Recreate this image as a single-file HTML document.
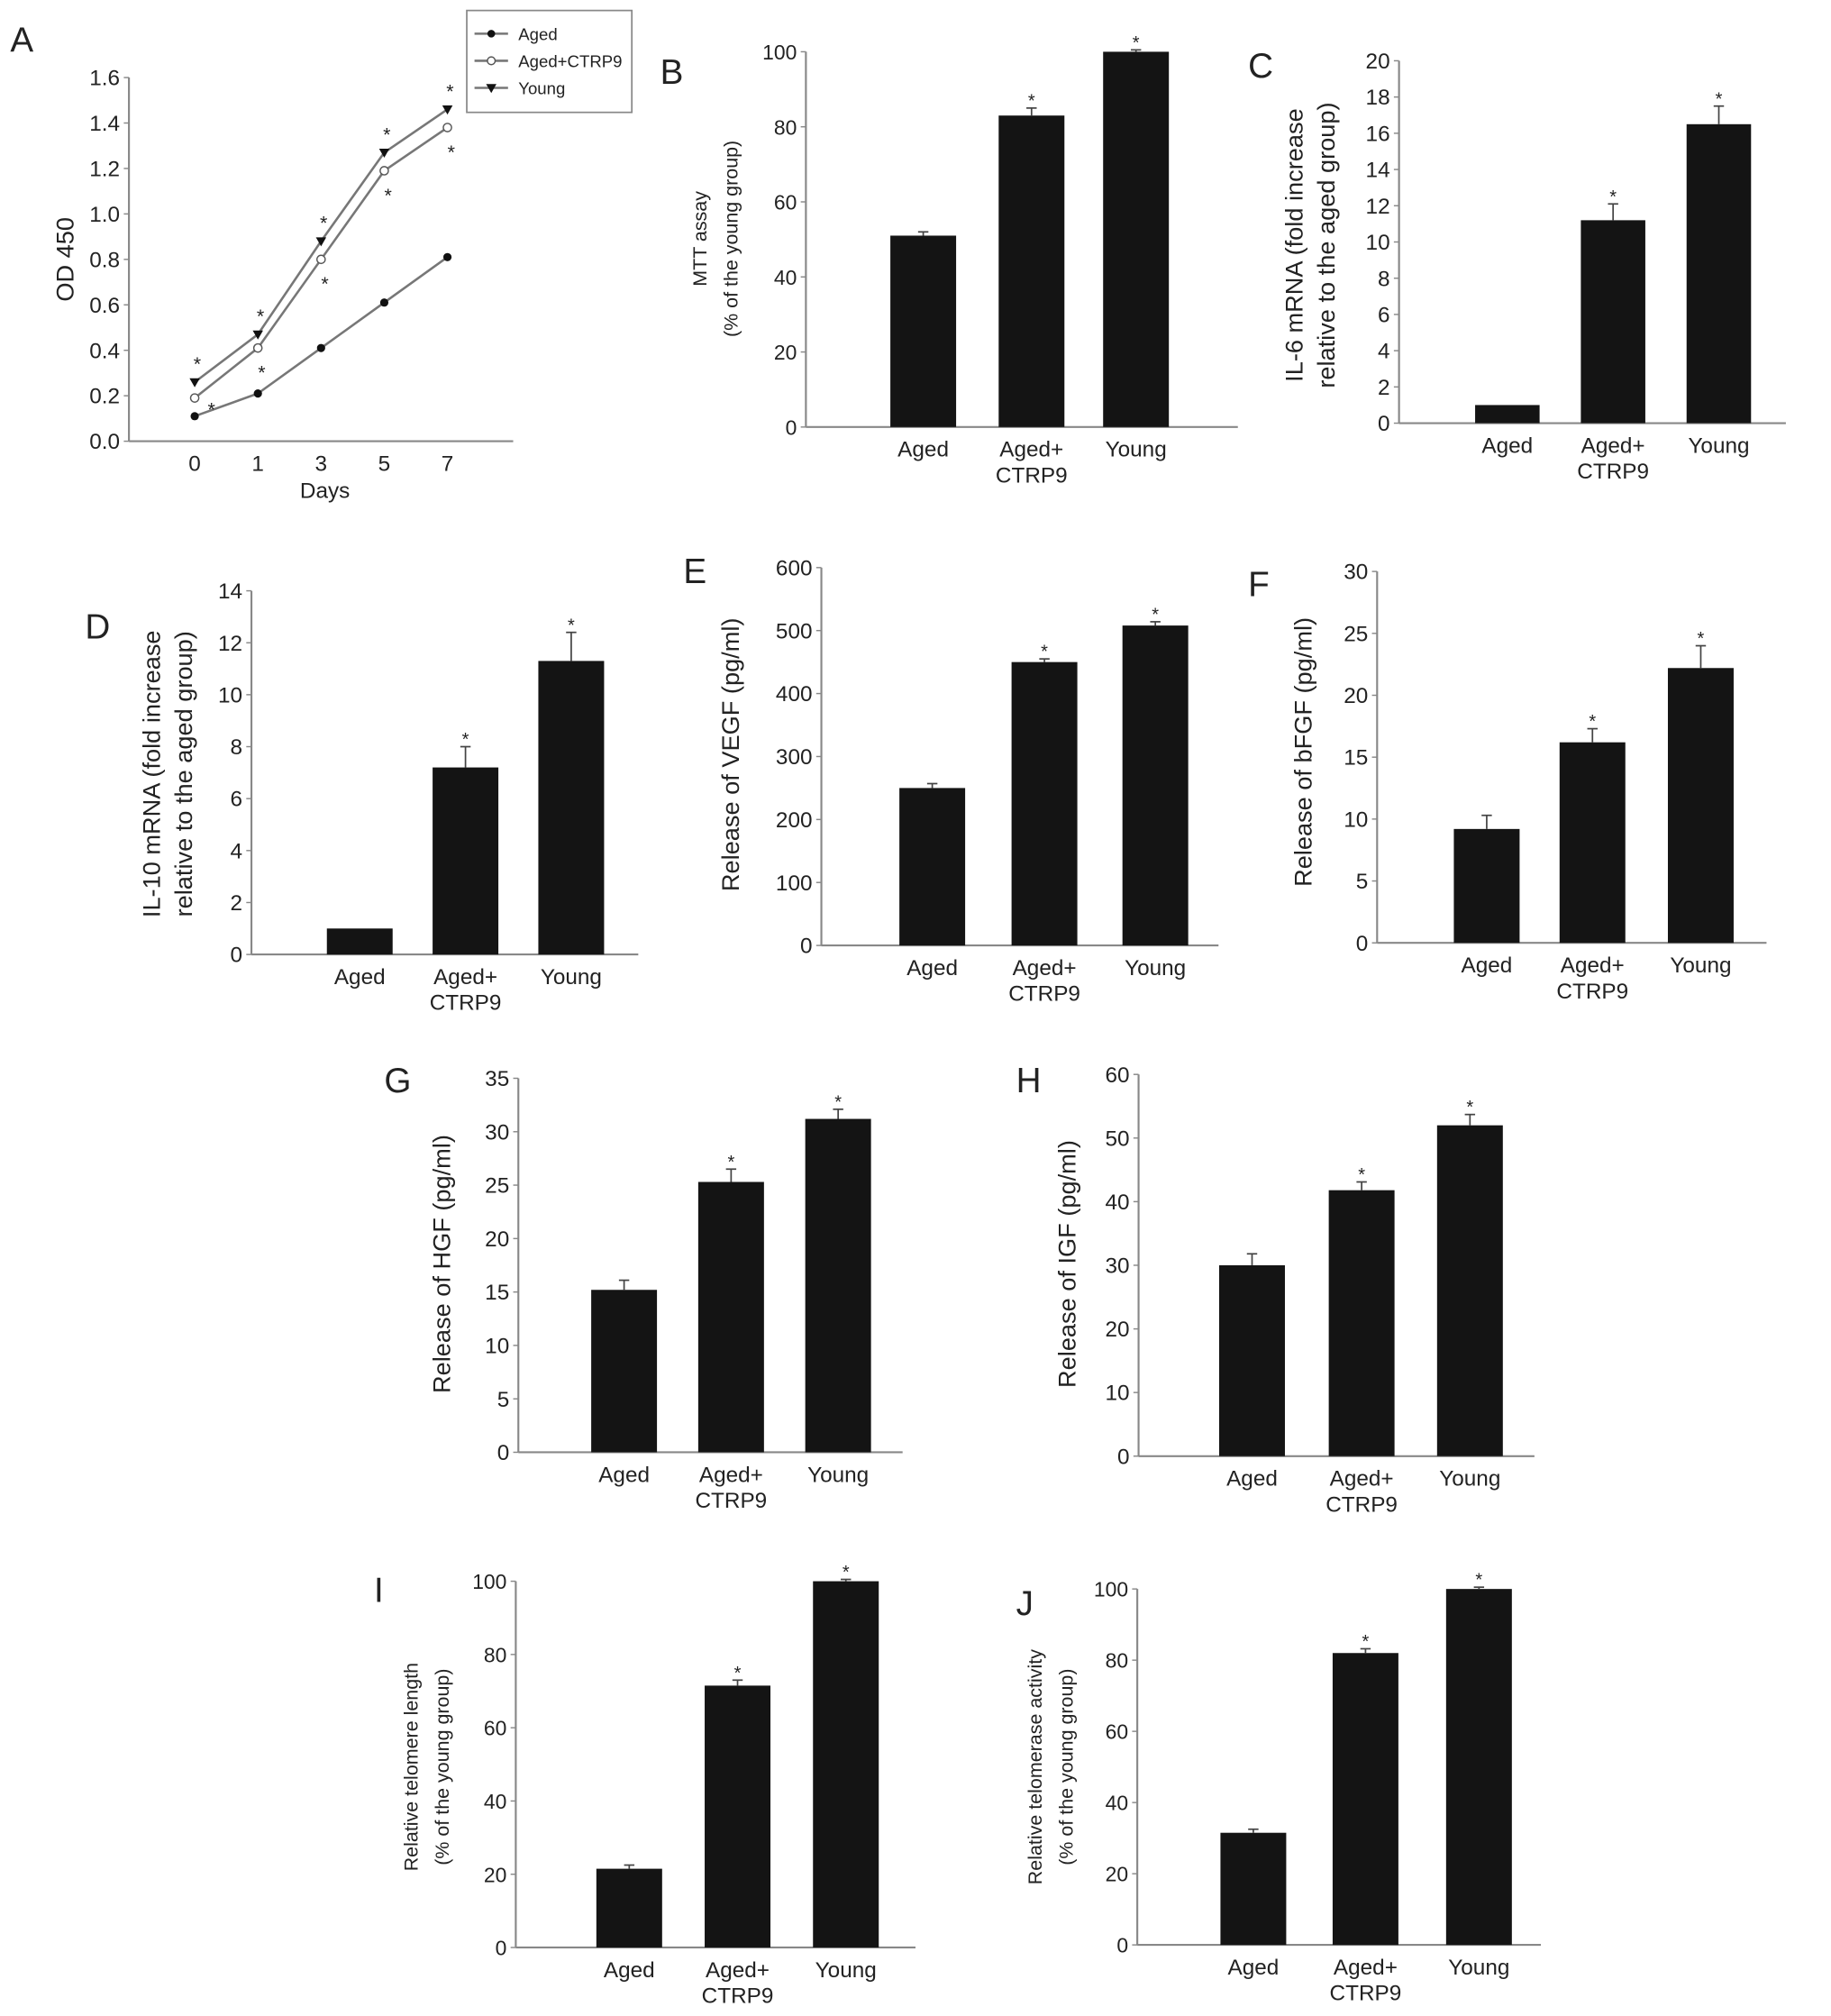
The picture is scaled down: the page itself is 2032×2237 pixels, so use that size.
<!DOCTYPE html>
<html><head><meta charset="utf-8">
<style>
html,body{margin:0;padding:0;background:#fff;}
svg{display:block;}
text{font-family:"Liberation Sans",Arial,sans-serif;fill:#222;}
</style></head>
<body>
<svg id="fig" width="2032" height="2237" viewBox="0 0 1420 1563" xmlns="http://www.w3.org/2000/svg"></svg>
<script>
// ---- Panel A data ----
const daysA = ["0","1","3","5","7"];
const agedA = [0.11,0.21,0.41,0.61,0.81];
const ctrpA = [0.19,0.41,0.80,1.19,1.38];
const youngA = [0.26,0.47,0.88,1.27,1.46];
const ticksA = ["0.0","0.2","0.4","0.6","0.8","1.0","1.2","1.4","1.6"];
// ---- Bar panel data ----
const groups = ["Aged","Aged+ CTRP9","Young"];
const valB = [51,83,100];   const errB = [1,2,0.5];
const valC = [1,11.2,16.5]; const errC = [0,0.9,1.0];
const valD = [1,7.2,11.3];  const errD = [0,0.8,1.1];
const valE = [250,450,508]; const errE = [7,5,6];
const valF = [9.2,16.2,22.2]; const errF = [1.1,1.1,1.8];
const valG = [15.2,25.3,31.2]; const errG = [0.9,1.2,0.9];
const valH = [30,41.8,52];  const errH = [1.8,1.3,1.7];
const valI = [21.5,71.5,100]; const errI = [1,1.5,0.5];
const valJ = [31.5,82,100]; const errJ = [1,1.2,0.5];
const starB = [false,true,true];

const NS="http://www.w3.org/2000/svg";
const svg=document.getElementById('fig');
function mk(tag,attrs,parent,txt){const e=document.createElementNS(NS,tag);for(const k in attrs)e.setAttribute(k,attrs[k]);if(txt!==undefined)e.textContent=txt;(parent||svg).appendChild(e);return e;}

// ---- Panel A ----
(function(){
  const g=mk('g',{});
  
  
  const x0=100,x1=398,y0=342,y1=60;
  const xs=[151,200,250,299,347];
  const Y=v=>y0-(v/1.6)*(y0-y1);
  const X=i=>xs[0]+(xs[4]-xs[0])*i/(daysA.length-1);
  const t=mk('text',{x:8,y:40,'font-size':27},g,'A');
  
  mk('line',{x1:x0,y1:y0,x2:x1,y2:y0,stroke:'#888','stroke-width':1.5},g);
  mk('line',{x1:x0,y1:y0,x2:x0,y2:y1,stroke:'#888','stroke-width':1.5},g);
  ticksA.forEach((tl,i)=>{const v=parseFloat(tl);const y=Y(v);
    mk('line',{x1:x0-4,y1:y,x2:x0,y2:y,stroke:'#888'},g);
    const tt=mk('text',{x:x0-7,y:y+6,'font-size':17,'text-anchor':'end'},g,tl);
    });
  daysA.forEach((d,i)=>{const tt=mk('text',{x:X(i),y:y0+23,'font-size':17,'text-anchor':'middle'},g,d);
    });
  const xt=mk('text',{x:252,y:386,'font-size':17,'text-anchor':'middle'},g,'Days');
  
  const yt=mk('text',{x:0,y:0,'font-size':19,'text-anchor':'middle',transform:'translate(57,201) rotate(-90)'},g,'OD 450');
  
  const series=[[agedA,'dot'],[ctrpA,'open'],[youngA,'tri']];
  series.forEach(([arr,m])=>{
    const pts=arr.map((v,i)=>X(i)+','+Y(v)).join(' ');
    const pl=mk('polyline',{points:pts,fill:'none',stroke:'#777','stroke-width':1.8},g);
    
    arr.forEach((v,i)=>{let e;
      if(m==='dot')e=mk('circle',{cx:X(i),cy:Y(v),r:3.2,fill:'#111'},g);
      else if(m==='open')e=mk('circle',{cx:X(i),cy:Y(v),r:3.2,fill:'#fff',stroke:'#555'},g);
      else e=mk('path',{d:`M${X(i)-4},${Y(v)-3}L${X(i)+4},${Y(v)-3}L${X(i)},${Y(v)+4}Z`,fill:'#111'},g);
      });
  });
  youngA.forEach((v,i)=>{const s=mk('text',{x:X(i)+2,y:Y(v)-9,'font-size':15,'text-anchor':'middle'},g,'*');
    });
  ctrpA.forEach((v,i)=>{const s=mk('text',{x:X(i)+(i===0?13:3),y:Y(v)+(i===0?14:24),'font-size':15,'text-anchor':'middle'},g,'*');
    });
  // legend
  const lg=mk('g',{},g);
  mk('rect',{x:362,y:8,width:128,height:79,fill:'#fff',stroke:'#888','stroke-width':1.2},lg);
  const names=['Aged','Aged+CTRP9','Young'];const ms=['dot','open','tri'];
  names.forEach((n,i)=>{const y=26+i*21;
    mk('line',{x1:368,y1:y,x2:394,y2:y,stroke:'#777','stroke-width':1.8},lg);
    if(ms[i]==='dot')mk('circle',{cx:381,cy:y,r:3,fill:'#111'},lg);
    else if(ms[i]==='open')mk('circle',{cx:381,cy:y,r:3,fill:'#fff',stroke:'#555'},lg);
    else mk('path',{d:`M377,${y-3}L385,${y-3}L381,${y+4}Z`,fill:'#111'},lg);
    const tt=mk('text',{x:402,y:y+5,'font-size':13},lg,n);
    });
})();

// ---- Bar panels ----
function barPanel(o){
  const g=mk('g',{});
  
  
  const Y=v=>o.y0-(v/o.max)*(o.y0-o.y1);
  const L=mk('text',{x:o.lx,y:o.ly,'font-size':27},g,o.id.toUpperCase());
  
  mk('line',{x1:o.ax,y1:o.y0,x2:o.ar,y2:o.y0,stroke:'#888','stroke-width':1.5},g);
  mk('line',{x1:o.ax,y1:o.y0,x2:o.ax,y2:o.y1,stroke:'#888','stroke-width':1.5},g);
  for(let v=0;v<=o.max+1e-9;v+=o.step){const y=Y(v);
    mk('line',{x1:o.ax-4,y1:y,x2:o.ax,y2:y,stroke:'#888'},g);
    const tt=mk('text',{x:o.ax-7,y:y+6,'font-size':o.tf||17,'text-anchor':'end'},g,String(Math.round(v)));
    }
  const bw=o.bw||51;
  o.vals.forEach((v,i)=>{const cx=o.cx[i];
    const r=mk('rect',{x:cx-bw/2,y:Y(v),width:bw,height:o.y0-Y(v),fill:'#141414'},g);
    
    const e=o.errs[i];
    if(e>0){mk('line',{x1:cx,y1:Y(v),x2:cx,y2:Y(v+e),stroke:'#444','stroke-width':1.2},g);
      mk('line',{x1:cx-4,y1:Y(v+e),x2:cx+4,y2:Y(v+e),stroke:'#444','stroke-width':1.2},g);}
    if(starB[i]){const s=mk('text',{x:cx,y:Y(v+e)-1,'font-size':14,'text-anchor':'middle'},g,'*');
      }
    const parts=groups[i].split(' ');
    parts.forEach((p,j)=>{const tt=mk('text',{x:cx,y:o.y0+23+j*20,'font-size':17,'text-anchor':'middle'},g,p);
      });
  });
  o.title.forEach((t,j)=>{const tt=mk('text',{x:0,y:0,'font-size':o.titf,'text-anchor':'middle',transform:`translate(${o.tx+j*o.tdx},${o.ty}) rotate(-90)`},g,t);
    });
}
barPanel({id:'b',vals:valB,errs:errB,max:100,step:20,ax:625,ar:960,y0:331,y1:40,cx:[716,800,881],lx:512,ly:65,title:['MTT assay','(% of the young group)'],titf:15,tx:548,tdx:24,ty:185,tf:16});
barPanel({id:'c',vals:valC,errs:errC,max:20,step:2,ax:1085,ar:1385,y0:328,y1:47,cx:[1169,1251,1333],bw:50,lx:968,ly:60,title:['IL-6 mRNA (fold increase','relative to the aged group)'],titf:19,tx:1010,tdx:25,ty:190});
barPanel({id:'d',vals:valD,errs:errD,max:14,step:2,ax:195,ar:495,y0:740,y1:458,cx:[279,361,443],lx:66,ly:495,title:['IL-10 mRNA (fold increase','relative to the aged group)'],titf:19,tx:124,tdx:25,ty:600});
barPanel({id:'e',vals:valE,errs:errE,max:600,step:100,ax:637,ar:945,y0:733,y1:440,cx:[723,810,896],lx:530,ly:452,title:['Release of VEGF (pg/ml)'],titf:19,tx:573,tdx:0,ty:585});
barPanel({id:'f',vals:valF,errs:errF,max:30,step:5,ax:1068,ar:1370,y0:731,y1:443,cx:[1153,1235,1319],lx:968,ly:462,title:['Release of bFGF (pg/ml)'],titf:19,tx:1017,tdx:0,ty:583});
barPanel({id:'g',vals:valG,errs:errG,max:35,step:5,ax:402,ar:700,y0:1126,y1:836,cx:[484,567,650],lx:298,ly:847,title:['Release of HGF (pg/ml)'],titf:19,tx:349,tdx:0,ty:980});
barPanel({id:'h',vals:valH,errs:errH,max:60,step:10,ax:883,ar:1190,y0:1129,y1:833,cx:[971,1056,1140],lx:788,ly:847,title:['Release of IGF (pg/ml)'],titf:19,tx:834,tdx:0,ty:980});
barPanel({id:'i',vals:valI,errs:errI,max:100,step:20,ax:400,ar:710,y0:1510,y1:1226,cx:[488,572,656],lx:290,ly:1242,title:['Relative telomere length','(% of the young group)'],titf:15,tx:324,tdx:24,ty:1370,tf:16});
barPanel({id:'j',vals:valJ,errs:errJ,max:100,step:20,ax:882,ar:1195,y0:1508,y1:1232,cx:[972,1059,1147],lx:788,ly:1252,title:['Relative telomerase  activity','(% of the young group)'],titf:15,tx:808,tdx:24,ty:1370,tf:16});
</script>
</body></html>
